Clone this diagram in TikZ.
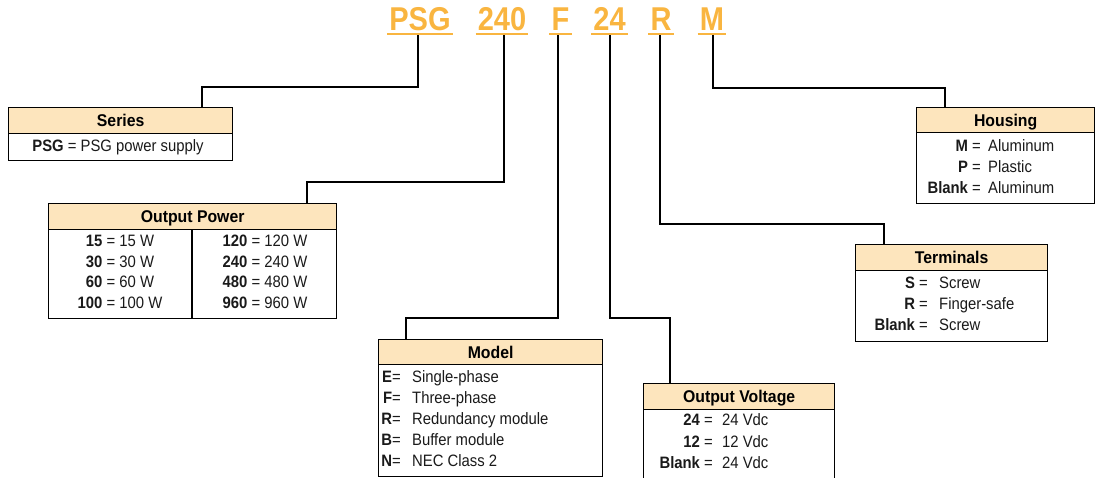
\documentclass[tikz,border=0pt]{standalone}
\usepackage{fontspec}
\setmainfont{Liberation Sans}
\newfontfamily\codefont[FakeStretch=0.88]{Liberation Sans}
\newfontfamily\bodyfont[FakeStretch=0.9]{Liberation Sans}
\newfontfamily\headfont[FakeStretch=0.93]{Liberation Sans}
\usetikzlibrary{calc}
\definecolor{codeorange}{HTML}{F9B540}
\definecolor{headfill}{HTML}{FDE5BD}
\definecolor{bodytext}{HTML}{1A1A1A}
\newcommand\tbox[7]{%
  \node[bodybox, anchor=north west, minimum width={#4-#2}, minimum height={#6-#3}] (#1) at (#2,#3) {};
  \node[head, minimum width={#4-#2}, minimum height={#5-#3}] (#1H) at (#2,#3) {#7};}
\newcommand\kv[6]{%
  \node[txt, anchor=base east] (#1k) at (#2,#4) {#5};
  \node[txt, anchor=base west] (#1v) at (#3,#4) {#6};}
\begin{document}
\begin{tikzpicture}[x=1pt,y=-1pt,
  code/.style={font=\codefont\bfseries\fontsize{33}{33}\selectfont, text=codeorange, inner sep=0pt, anchor=base},
  uline/.style={draw=codeorange, line width=2pt},
  head/.style={draw=black, line width=1.3pt, fill=headfill, anchor=north west, inner sep=0pt,
    font=\headfont\bfseries\fontsize{17}{17}\selectfont, text height=12pt, text depth=0pt},
  bodybox/.style={draw=black, line width=1.3pt, fill=white, inner sep=0pt},
  txt/.style={font=\bodyfont\fontsize{16.5}{16.5}\selectfont, text=bodytext, inner sep=0pt},
  wire/.style={line width=1.8pt, black}]
\useasboundingbox (0,0) rectangle (1096,477);
\clip (0,0) rectangle (1096,477);

% code letters
\node[code] (cPSG) at (420,30) {PSG};
\node[code] (c240) at (502,30) {240};
\node[code] (cF) at (560.5,30) {F};
\node[code] (c24) at (609.5,30) {24};
\node[code] (cR) at (661,30) {R};
\node[code] (cM) at (712,30) {M};
\foreach \n in {cPSG,c240,cF,c24,cR,cM}{
  \draw[uline] ($(\n.base west)+(-2,4)$) -- ($(\n.base east)+(2,4)$);
}

% tick tops and junctions
\coordinate (tPSG) at (418,35);
\coordinate (t240) at (504,35);
\coordinate (tF) at (558,35);
\coordinate (t24) at (610,35);
\coordinate (tR) at (660,35);
\coordinate (tM) at (713,35);
\coordinate (jPSG) at (202,87);
\coordinate (j240) at (307,182);
\coordinate (jF) at (406,318);
\coordinate (j24) at (670,318);
\coordinate (jR) at (884,224);
\coordinate (jM) at (945,88);

% boxes
\tbox{series}{8}{107}{232}{133}{160}{Series}
\tbox{op}{48}{203}{336}{229}{318}{Output Power}
\tbox{model}{378}{339}{602}{364}{476}{Model}
\tbox{ov}{643}{383}{834}{409}{500}{Output Voltage}
\tbox{term}{855}{244}{1047}{270}{341}{Terminals}
\tbox{hous}{916}{107}{1094}{132}{203}{Housing}

% connectors
\draw[wire] (tPSG) |- (jPSG) -- (jPSG |- seriesH.north);
\draw[wire] (t240) |- (j240) -- (j240 |- opH.north);
\draw[wire] (tF) |- (jF) -- (jF |- modelH.north);
\draw[wire] (t24) |- (j24) -- (j24 |- ovH.north);
\draw[wire] (tR) |- (jR) -- (jR |- termH.north);
\draw[wire] (tM) |- (jM) -- (jM |- housH.north);

% series
\node[txt, anchor=base] (s1) at (118,151.5) {\textbf{PSG} = PSG power supply};

% output power
\coordinate (opdiv) at (192,229);
\draw[line width=1.3pt] (opdiv) -- (opdiv |- op.south);
\node[txt, anchor=base] (opa1) at (120,246.5) {\textbf{15} = 15 W};
\node[txt, anchor=base] (opa2) at (120,267) {\textbf{30} = 30 W};
\node[txt, anchor=base] (opa3) at (120,287.5) {\textbf{60} = 60 W};
\node[txt, anchor=base] (opa4) at (120,308) {\textbf{100} = 100 W};
\node[txt, anchor=base] (opb1) at (265,246.5) {\textbf{120} = 120 W};
\node[txt, anchor=base] (opb2) at (265,267) {\textbf{240} = 240 W};
\node[txt, anchor=base] (opb3) at (265,287.5) {\textbf{480} = 480 W};
\node[txt, anchor=base] (opb4) at (265,308) {\textbf{960} = 960 W};

% model
\kv{m1}{401}{412}{382.5}{\textbf{E}=}{Single-phase}
\kv{m2}{401}{412}{403}{\textbf{F}=}{Three-phase}
\kv{m3}{401}{412}{424}{\textbf{R}=}{Redundancy module}
\kv{m4}{401}{412}{445}{\textbf{B}=}{Buffer module}
\kv{m5}{401}{412}{466}{\textbf{N}=}{NEC Class 2}

% output voltage
\kv{v1}{713}{722}{425.5}{\textbf{24} =}{24 Vdc}
\kv{v2}{713}{722}{447}{\textbf{12} =}{12 Vdc}
\kv{v3}{713}{722}{468.5}{\textbf{Blank} =}{24 Vdc}

% terminals
\kv{r1}{928}{939}{288.5}{\textbf{S} =}{Screw}
\kv{r2}{928}{939}{309.5}{\textbf{R} =}{Finger-safe}
\kv{r3}{928}{939}{330.5}{\textbf{Blank} =}{Screw}

% housing
\kv{h1}{981}{988}{151.5}{\textbf{M} =}{Aluminum}
\kv{h2}{981}{988}{172.5}{\textbf{P} =}{Plastic}
\kv{h3}{981}{988}{193.5}{\textbf{Blank} =}{Aluminum}
\end{tikzpicture}
\end{document}
